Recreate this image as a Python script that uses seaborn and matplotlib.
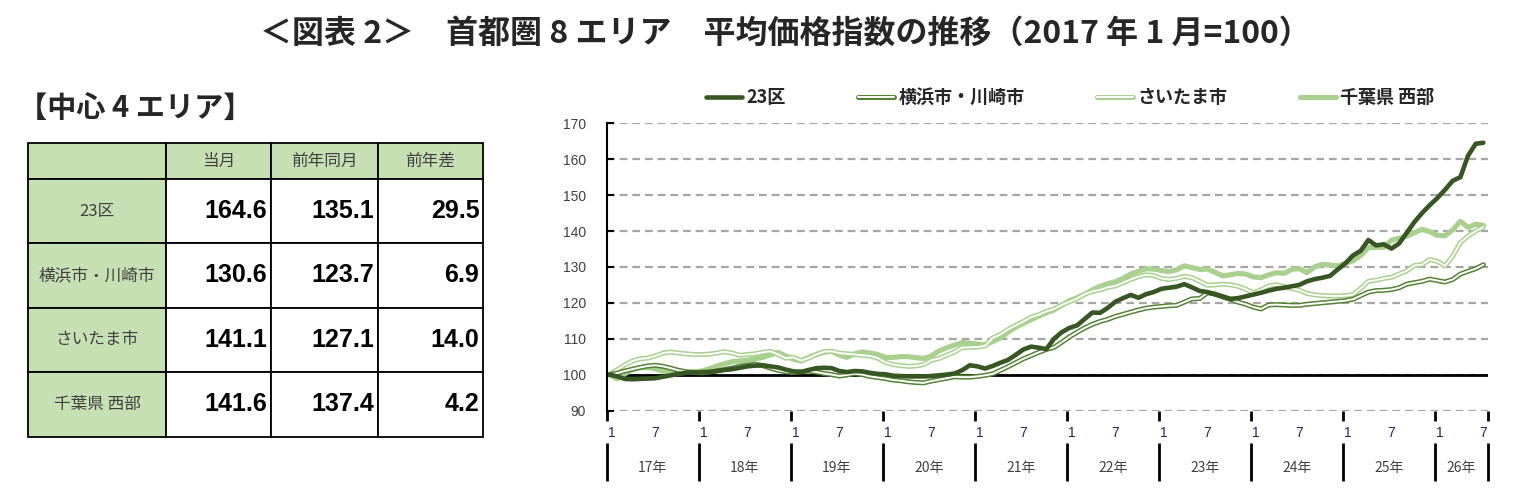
import numpy as np
import pandas as pd
import seaborn as sns
import matplotlib.pyplot as plt
import matplotlib.patheffects as pe
from matplotlib.lines import Line2D
from matplotlib.font_manager import FontProperties

# 月次データ (2017年1月=100), 2017/1 - 2026/7
areas = ['23区', '横浜市・川崎市', 'さいたま市', '千葉県 西部']

ku23 = [
    100.0, 99.5, 98.8, 98.7, 98.8, 98.9, 99.0, 99.4, 99.8, 100.2, 100.5, 100.6,
    100.7, 100.7, 101.0, 101.3, 101.5, 101.9, 102.3, 102.5, 102.6, 102.3, 102.0, 101.4,
    100.9, 100.7, 101.3, 101.8, 101.9, 101.8, 101.0, 100.7, 101.0, 100.9, 100.5, 100.2,
    100.1, 99.7, 99.6, 99.5, 99.5, 99.5, 99.6, 99.8, 100.0, 100.3, 101.2, 102.6,
    102.3, 101.7, 102.4, 103.3, 104.1, 105.5, 107.0, 107.8, 107.5, 107.1, 110.0, 111.8,
    113.0, 113.7, 115.5, 117.3, 117.2, 118.6, 120.3, 121.3, 122.2, 121.4, 122.4, 123.0,
    123.9, 124.2, 124.5, 125.2, 124.3, 123.3, 123.0, 122.3, 121.8, 121.1, 121.3, 121.8,
    122.3, 122.8, 123.4, 123.9, 124.2, 124.6, 125.0, 126.0, 126.6, 127.0, 127.5, 129.3,
    131.0, 133.2, 134.5, 137.5, 136.0, 136.3, 135.1, 136.5, 139.5, 142.5, 145.0, 147.2,
    149.2, 151.5, 154.0, 155.0, 161.0, 164.3, 164.6,
]
yokohama = [
    100.0, 100.4, 101.0, 101.5, 102.0, 102.4, 102.6, 102.3, 101.8, 101.2, 100.8, 100.6,
    100.5, 100.7, 101.0, 101.4, 101.8, 102.3, 102.6, 102.9, 102.5, 101.8, 101.2, 100.8,
    100.6, 100.8, 101.0, 100.7, 100.3, 100.0, 99.6, 99.9, 100.3, 100.0, 99.5, 99.2,
    98.9, 98.5, 98.3, 98.0, 97.8, 97.7, 98.2, 98.6, 99.0, 99.4, 99.3, 99.3,
    99.5, 99.8, 100.2, 101.2, 102.2, 103.3, 104.4, 105.3, 106.2, 107.0, 107.6, 109.0,
    110.5, 111.8, 113.0, 114.0, 114.8, 115.4, 116.2, 116.8, 117.4, 118.0, 118.5, 118.8,
    119.0, 119.2, 119.3, 120.2, 121.1, 121.2, 122.8, 122.5, 121.6, 121.0, 120.2, 119.6,
    118.8, 118.3, 119.4, 119.5, 119.4, 119.3, 119.3, 119.6, 119.8, 120.0, 120.2, 120.4,
    120.6, 121.0, 122.0, 123.0, 123.4, 123.5, 123.7, 124.2, 125.2, 125.6, 126.0, 126.6,
    126.2, 125.8, 126.5, 128.0, 128.8, 129.5, 130.6,
]
saitama = [
    100.0, 101.3, 102.7, 103.8, 104.4, 104.6, 105.2, 106.0, 106.3, 106.0, 105.8, 105.6,
    105.6, 105.7, 106.0, 106.4, 106.0, 105.4, 105.6, 105.8, 106.2, 106.5, 105.6, 104.6,
    104.8, 103.9, 104.6, 105.6, 106.4, 106.5, 106.0, 105.8, 105.6, 105.4, 105.2, 104.6,
    103.4, 102.8, 102.5, 102.3, 102.4, 102.8, 104.0, 104.5, 105.4, 106.3, 107.5, 107.6,
    107.7, 108.0, 110.2, 111.2, 112.6, 113.7, 114.8, 116.0, 116.7, 117.6, 118.3, 119.4,
    120.3, 121.2, 122.4, 123.2, 123.6, 124.3, 124.7, 125.6, 126.5, 127.3, 127.8, 127.6,
    126.8, 126.5, 126.8, 127.4, 127.0, 126.0, 124.9, 125.0, 125.2, 125.0, 124.6, 123.8,
    122.8, 123.6, 124.7, 125.0, 124.5, 124.0, 123.5, 122.6, 122.2, 122.0, 121.9, 121.9,
    122.0, 122.3, 124.0, 126.0, 126.3, 126.8, 127.1, 128.0, 128.9, 130.4, 130.6, 132.1,
    131.5, 130.3, 133.0, 136.8, 138.6, 140.0, 141.1,
]
chiba = [
    100.0, 98.8, 100.2, 101.4, 101.9, 102.0, 101.6, 101.0, 100.7, 100.5, 100.6, 100.8,
    101.0, 101.6, 102.4, 103.0, 103.6, 103.8, 104.0, 104.4, 104.8, 105.5, 106.2, 105.2,
    104.3, 103.8, 104.8, 105.6, 106.2, 106.5, 105.4, 104.8, 105.8, 106.3, 106.0, 105.6,
    104.8, 104.8, 105.0, 105.0, 104.7, 104.5, 105.2, 106.6, 107.5, 108.2, 108.9, 108.8,
    108.5, 108.3, 109.2, 110.2, 111.8, 113.2, 114.3, 115.3, 116.3, 117.2, 118.0, 119.3,
    120.6, 121.4, 122.4, 123.6, 124.6, 125.3, 125.9, 126.8, 128.0, 128.8, 129.5, 129.4,
    129.0, 128.7, 129.2, 130.3, 129.8, 129.3, 129.4, 128.5, 127.5, 127.8, 128.2, 128.0,
    127.2, 127.0, 127.8, 128.4, 128.2, 129.3, 129.5, 128.4, 130.0, 130.7, 130.5, 130.3,
    131.0, 131.7, 133.2, 135.4, 135.4, 135.5, 137.4, 138.0, 138.6, 139.5, 140.5, 139.8,
    138.8, 138.7, 140.3, 142.7, 141.0, 141.9, 141.6,
]
years = ['17年', '18年', '19年', '20年', '21年', '22年', '23年', '24年', '25年', '26年']
table_cols = ['当月', '前年同月', '前年差']

series = [ku23, yokohama, saitama, chiba]
n = len(ku23)
df = pd.DataFrame({
    'month': np.tile(np.arange(n), 4),
    'area': np.repeat(areas, n),
    'value': np.concatenate(series),
})

colors = {'23区': '#375623', '横浜市・川崎市': '#548235',
          'さいたま市': '#A9D08E', '千葉県 西部': '#A9D08E'}
double = {'横浜市・川崎市', 'さいたま市'}


def line_style(name):
    # 二重線は白い細線＋色付きの縁取りで表現
    if name in double:
        return dict(color='white', linewidth=1.4,
                    path_effects=[pe.Stroke(linewidth=3.6, foreground=colors[name]),
                                  pe.Normal()])
    lw = 3.7 if name == '千葉県 西部' else 3.3
    return dict(color=colors[name], linewidth=lw)


sns.set_theme(style='white')
plt.rcParams['font.family'] = ['Liberation Sans', 'Noto Sans CJK JP']
jp = 'Noto Sans CJK JP'

fig = plt.figure(figsize=(15.34, 5.04), dpi=100)
fig.text(0.512, 0.934, '＜図表 2＞　首都圏 8 エリア　平均価格指数の推移（2017 年 1 月=100）',
         ha='center', va='center', fontsize=23, fontweight='bold', family=[jp])

# ---- グラフ
ax = fig.add_axes([0.3955, 0.1855, 0.5745, 0.5698])
draw_order = ['千葉県 西部', 'さいたま市', '横浜市・川崎市', '23区']
for name in draw_order:
    sub = df[df['area'] == name]
    sns.lineplot(data=sub, x='month', y='value', ax=ax, legend=False, **line_style(name))

ax.set_xlim(-0.35, 114.6)
ax.set_ylim(90, 170)
ax.set_yticks(range(90, 171, 10))
ax.yaxis.grid(True, linestyle=(0, (3.5, 2.2)), color='#A6A6A6', linewidth=1.6)
ax.set_axisbelow(True)
ax.axhline(100, color='black', linewidth=2, zorder=1.5)
for s in ['top', 'right', 'bottom']:
    ax.spines[s].set_visible(False)
ax.spines['left'].set_color('black')
ax.spines['left'].set_linewidth(1.5)
ax.tick_params(axis='y', direction='in', length=5, width=1.5, color='black',
               pad=15, labelsize=10, labelcolor='#404040', left=True)
ax.set_xlabel('')
ax.set_ylabel('')

major = []
major_lab = []
for k in range(len(years)):
    major += [12 * k + 0.3, 12 * k + 6]
    major_lab += ['1', '7']
ax.set_xticks(major)
ax.set_xticklabels(major_lab)
ax.tick_params(axis='x', which='major', length=0, pad=11, labelsize=10,
               labelcolor='#1F2A5C')

seps = [12 * k - 0.35 for k in range(len(years))] + [114.6]
centers = [(seps[i] + seps[i + 1]) / 2 for i in range(len(years))]
ax.set_xticks(centers, minor=True)
ax.set_xticklabels(years, minor=True, family=[jp])
ax.tick_params(axis='x', which='minor', length=0, pad=36, labelsize=10,
               labelcolor='#404040')

tr = ax.get_xaxis_transform()
ax.vlines(seps, 0, -0.038, color='black', linewidth=2, transform=tr, clip_on=False)
ax.vlines(seps, -0.113, -0.245, color='black', linewidth=2, transform=tr, clip_on=False)

handles = [Line2D([], [], **line_style(name)) for name in areas]
fig.legend(handles, areas, loc='center', bbox_to_anchor=(0.6975, 0.806), ncol=4,
           frameon=False, handlelength=2.0, handletextpad=0.25, columnspacing=4.0,
           prop=FontProperties(family=jp, weight='bold', size=13))

# ---- 表
fig.text(0.012, 0.786, '【中心 4 エリア】', ha='left', va='center', fontsize=21,
         fontweight='bold', family=[jp])

cells = [[''] + table_cols]
for name, s in zip(areas, series):
    cur, prev = s[-1], s[-13]
    cells.append([name, f'{cur:.1f}', f'{prev:.1f}', f'{cur - prev:.1f}'])

colw = [138, 105, 107, 105]
rowh = [36, 64, 64, 64, 65]
tax = fig.add_axes([28 / 1534, 1 - 437 / 504, 455 / 1534, 294 / 504])
tax.axis('off')
tbl = tax.table(cellText=cells, colWidths=[w / sum(colw) for w in colw],
                bbox=[0, 0, 1, 1], cellLoc='center')
tbl.auto_set_font_size(False)
for (r, c), cell in tbl.get_celld().items():
    cell.set_height(rowh[r] / sum(rowh))
    cell.set_edgecolor('black')
    cell.set_linewidth(1.3)
    txt = cell.get_text()
    if r == 0 or c == 0:
        cell.set_facecolor('#C6E0B4')
        txt.set_fontfamily([jp])
        txt.set_fontsize(12)
        txt.set_color('#404040')
    else:
        cell.set_facecolor('white')
        txt.set_fontfamily(['Liberation Sans'])
        txt.set_fontweight('bold')
        txt.set_fontsize(18)
        txt.set_color('black')
        txt.set_horizontalalignment('right')
        cell.PAD = 0.035

fig.savefig('out.png', dpi=100, facecolor='white')
